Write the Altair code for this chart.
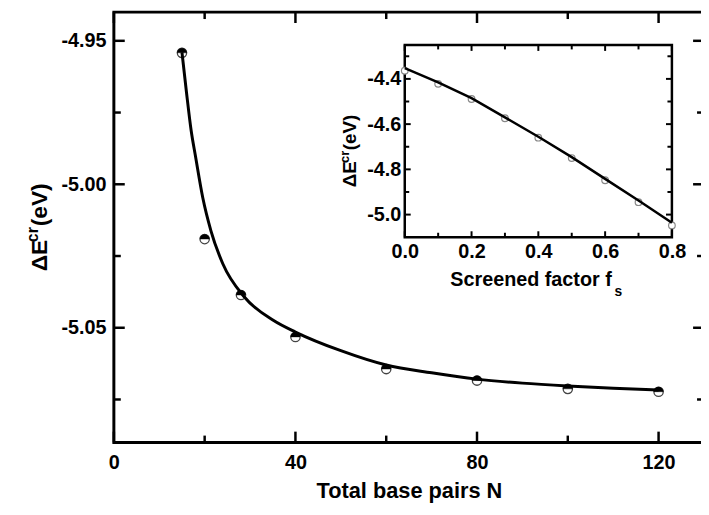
import altair as alt
import pandas as pd

# ---------------- main panel data ----------------
N_pts = [15, 20, 28, 40, 60, 80, 100, 120]
E_pts = [-4.9542, -5.0191, -5.0386, -5.0532, -5.0644, -5.0684, -5.0713, -5.0723]

N_fit = [15, 16, 17, 18, 19.6, 21.4, 24, 28.7, 35.2, 40, 50, 60, 70, 80, 90, 100, 110, 120]
E_fit = [-4.954, -4.968, -4.981, -4.9904, -5.0048, -5.0163, -5.0277, -5.0392, -5.0475,
         -5.0515, -5.058, -5.063, -5.0657, -5.0679, -5.0693, -5.0703, -5.0711, -5.0717]

# ---------------- inset data ----------------
fs_pts = [0.0, 0.1, 0.2, 0.3, 0.4, 0.5, 0.6, 0.7, 0.8]
E_fs_pts = [-4.364, -4.422, -4.489, -4.574, -4.660, -4.750, -4.848, -4.945, -5.048]
E_fs_fit = [-4.352, -4.415, -4.485, -4.570, -4.656, -4.746, -4.842, -4.938, -5.036]

# ---------------- ticks / labels ----------------
x_major = [0, 40, 80, 120]
x_minor = [20, 60, 100]
y_major = [-4.95, -5.00, -5.05]
y_minor = [-4.975, -5.025, -5.075]
fs_major = [0.0, 0.2, 0.4, 0.6, 0.8]
fs_minor = [0.1, 0.3, 0.5, 0.7]
iy_major = [-4.4, -4.6, -4.8, -5.0]
iy_minor = [-4.3, -4.5, -4.7, -4.9]

x_title = "Total base pairs N"
inset_x_title = "Screened factor f"
inset_x_sub = "s"
y_title_main = "ΔE"
y_title_sup = "cr"
y_title_unit = "(eV)"

FONT = "Liberation Sans"
W, H = 596.4, 435.0
XDOM = [0, 130]
YDOM = [-5.09, -4.94]
IXDOM = [0, 0.8]
IYDOM = [-5.1, -4.25]
IX_RANGE = [294, 564]
IY_RANGE = [227.5, 33.2]

xs = alt.Scale(domain=XDOM, nice=False, zero=False)
ys = alt.Scale(domain=YDOM, nice=False, zero=False)
ixs = alt.Scale(domain=IXDOM, range=IX_RANGE, nice=False, zero=False)
iys = alt.Scale(domain=IYDOM, range=IY_RANGE, nice=False, zero=False)

lab = dict(labelFont=FONT, labelFontWeight="bold", labelColor="black", grid=False,
           domain=False, ticks=False, tickSize=0, labelFlush=False)

x_axis = alt.Axis(values=x_major, title=x_title, labelFontSize=20, labelPadding=10,
                  titleFont=FONT, titleFontSize=22, titleFontWeight="bold",
                  titleColor="black", titleBaseline="alphabetic", titleY=56, **lab)
y_axis = alt.Axis(values=y_major, title=None, labelFontSize=20, labelPadding=8,
                  labelExpr="(datum.value < 0 ? '-' : '') + format(abs(datum.value), '.2f')",
                  **lab)
ix_axis = alt.Axis(orient="bottom", offset=IY_RANGE[0] - H, values=fs_major,
                   labelExpr="format(datum.value, '.1f')",
                   title=None, labelFontSize=20, labelPadding=5, **lab)
iy_axis = alt.Axis(orient="left", offset=-IX_RANGE[0], values=iy_major, title=None,
                   labelFontSize=20, labelPadding=4,
                   labelExpr="(datum.value < 0 ? '-' : '') + format(abs(datum.value), '.1f')",
                   **lab)

HALF = "M -1 0 A 1 1 0 0 1 1 0 Z"


def vticks(vals, at, length, xsc, ysc, xax, yax, sw):
    return alt.Chart(pd.DataFrame({"v": vals})).mark_rule(
        color="black", strokeWidth=sw, y2Offset=length).encode(
        x=alt.X("v:Q", scale=xsc, axis=xax),
        y=alt.YDatum(at, scale=ysc, axis=yax),
        y2=alt.Y2Datum(at))


def hticks(vals, at, length, xsc, ysc, xax, yax, sw):
    return alt.Chart(pd.DataFrame({"v": vals})).mark_rule(
        color="black", strokeWidth=sw, x2Offset=length).encode(
        y=alt.Y("v:Q", scale=ysc, axis=yax),
        x=alt.XDatum(at, scale=xsc, axis=xax),
        x2=alt.X2Datum(at))


def text(t, x, y, size, angle=0, align="left"):
    return alt.Chart(pd.DataFrame({"k": [0]})).mark_text(
        text=t, font=FONT, fontSize=size, fontWeight="bold", color="black",
        angle=angle, align=align, baseline="alphabetic").encode(
        x=alt.value(x), y=alt.value(y))


# ---------------- main layer ----------------
pts = pd.DataFrame({"N": N_pts, "E": E_pts})
fit = pd.DataFrame({"N": N_fit, "E": E_fit})

m_open = alt.Chart(pts).mark_point(shape="circle", size=90, filled=True, fill="white",
                                   stroke="#444", strokeWidth=1.3, opacity=1).encode(
    x=alt.X("N:Q", scale=xs, axis=x_axis), y=alt.Y("E:Q", scale=ys, axis=y_axis))
m_half = alt.Chart(pts).mark_point(shape=HALF, size=90, filled=True, fill="black",
                                   stroke="black", strokeWidth=0.4, opacity=1).encode(
    x=alt.X("N:Q", scale=xs, axis=x_axis), y=alt.Y("E:Q", scale=ys, axis=y_axis))
m_line = alt.Chart(fit).mark_line(color="black", strokeWidth=3, interpolate="monotone").encode(
    x=alt.X("N:Q", scale=xs, axis=x_axis), y=alt.Y("E:Q", scale=ys, axis=y_axis))

A = (xs, ys, x_axis, y_axis)
main_ticks = [
    vticks(x_major, YDOM[0], -11, *A, 2.5), vticks(x_minor, YDOM[0], -7, *A, 2.5),
    vticks(x_major, YDOM[1], 11, *A, 2.5), vticks(x_minor, YDOM[1], 7, *A, 2.5),
    hticks(y_major, XDOM[0], 11, *A, 2.5), hticks(y_minor, XDOM[0], 7, *A, 2.5),
    hticks(y_major, XDOM[1], -11, *A, 2.5), hticks(y_minor, XDOM[1], -7, *A, 2.5),
]

main_titles = [
    text(y_title_main, -68, 262.0, 23, angle=270),
    text(y_title_sup, -77, 232.5, 16, angle=270),
    text(y_title_unit, -68, 216.5, 23, angle=270),
]

main = alt.layer(m_open, m_line, m_half, *main_ticks, *main_titles)

# ---------------- inset layer ----------------
ipts = pd.DataFrame({"f": fs_pts, "E": E_fs_pts})
ifit = pd.DataFrame({"f": fs_pts, "E": E_fs_fit})

i_frame = alt.Chart(pd.DataFrame({"k": [0]})).mark_rect(
    fill=None, filled=False, stroke="black", strokeWidth=2.5).encode(
    x=alt.XDatum(IXDOM[0], scale=ixs, axis=ix_axis), x2=alt.X2Datum(IXDOM[1]),
    y=alt.YDatum(IYDOM[0], scale=iys, axis=iy_axis), y2=alt.Y2Datum(IYDOM[1]))
i_pts = alt.Chart(ipts).mark_point(shape="circle", size=45, filled=True, fill="white",
                                   stroke="#888", strokeWidth=1.2, opacity=1).encode(
    x=alt.X("f:Q", scale=ixs, axis=ix_axis), y=alt.Y("E:Q", scale=iys, axis=iy_axis))
i_line = alt.Chart(ifit).mark_line(color="black", strokeWidth=2.5).encode(
    x=alt.X("f:Q", scale=ixs, axis=ix_axis), y=alt.Y("E:Q", scale=iys, axis=iy_axis))

B = (ixs, iys, ix_axis, iy_axis)
inset_ticks = [
    vticks(fs_major, IYDOM[0], -6, *B, 2), vticks(fs_minor, IYDOM[0], -4.5, *B, 2),
    vticks(fs_major, IYDOM[1], 6, *B, 2), vticks(fs_minor, IYDOM[1], 4.5, *B, 2),
    hticks(iy_major, IXDOM[0], 6, *B, 2), hticks(iy_minor, IXDOM[0], 4.5, *B, 2),
    hticks(iy_major, IXDOM[1], -6, *B, 2), hticks(iy_minor, IXDOM[1], -4.5, *B, 2),
]

inset_titles = [
    text(y_title_main, 245, 177.0, 19, angle=270),
    text(y_title_sup, 238, 152.5, 13, angle=270),
    text(y_title_unit, 245, 139.5, 19, angle=270),
    text(inset_x_title, 340, 277.0, 20),
    text(inset_x_sub, 506, 287.0, 14),
]

inset = alt.layer(i_frame, i_pts, i_line, *inset_ticks, *inset_titles)

chart = alt.layer(main, inset).resolve_scale(
    x="independent", y="independent").properties(
    width=W, height=H,
    autosize=alt.AutoSizeParams(type="none"),
    padding={"left": 107, "top": 1.5, "right": -3, "bottom": 62},
    background="white",
).configure_view(stroke="black", strokeWidth=3)

chart.save("out.html", embed_options={"renderer": "svg", "actions": False})
